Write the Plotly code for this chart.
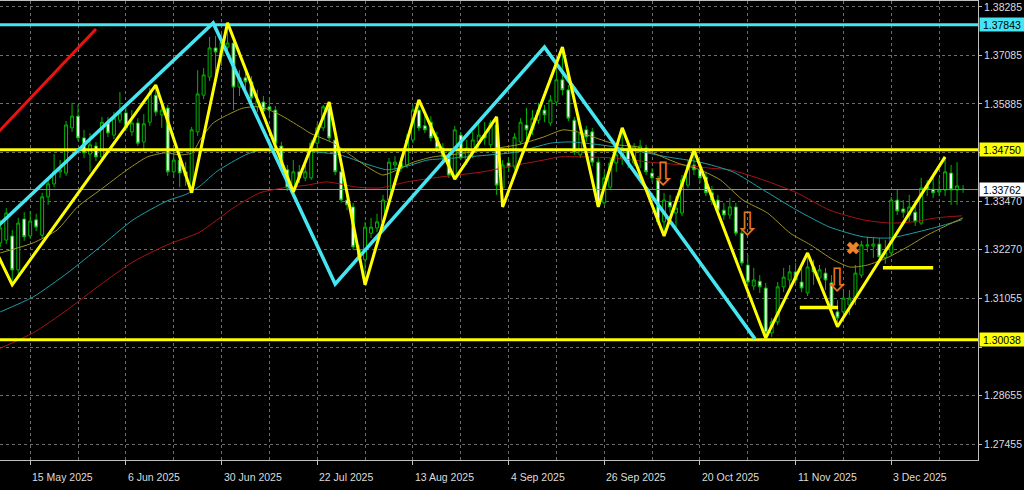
import plotly.graph_objects as go

# ---------------- data ----------------
# bar index 0 = 8 May 2025 ... 161 = 19 Dec 2025 (daily, weekdays)
opens = [
    1.3244, 1.3251, 1.3261, 1.3177, 1.3303, 1.3261, 1.3301, 1.3263, 1.3358, 1.3390,
    1.3420, 1.3417, 1.3529, 1.3558, 1.3504, 1.3464, 1.3484, 1.3457, 1.3541, 1.3511,
    1.3548, 1.3566, 1.3519, 1.3541, 1.3494, 1.3543, 1.3610, 1.3561, 1.3578, 1.3420,
    1.3449, 1.3420, 1.3380, 1.3519, 1.3610, 1.3655, 1.3727, 1.3707, 1.3729, 1.3739,
    1.3630, 1.3653, 1.3643, 1.3581, 1.3593, 1.3581, 1.3573, 1.3484, 1.3425, 1.3380,
    1.3420, 1.3405, 1.3405, 1.3491, 1.3529, 1.3578, 1.3499, 1.3420, 1.3350, 1.3333,
    1.3226, 1.3202, 1.3268, 1.3281, 1.3296, 1.3350, 1.3437, 1.3442, 1.3437, 1.3499,
    1.3573, 1.3534, 1.3543, 1.3506, 1.3479, 1.3457, 1.3412, 1.3511, 1.3449, 1.3474,
    1.3494, 1.3511, 1.3487, 1.3536, 1.3380, 1.3442, 1.3432, 1.3494, 1.3536, 1.3524,
    1.3548, 1.3573, 1.3541, 1.3593, 1.3648, 1.3623, 1.3548, 1.3462, 1.3524, 1.3519,
    1.3444, 1.3343, 1.3382, 1.3442, 1.3454, 1.3479, 1.3442, 1.3474, 1.3479, 1.3417,
    1.3400, 1.3296, 1.3345, 1.3318, 1.3318, 1.3387, 1.3437, 1.3425, 1.3407, 1.3368,
    1.3350, 1.3325, 1.3313, 1.3333, 1.3268, 1.3189, 1.3137, 1.3149, 1.3132, 1.3021,
    1.3048, 1.3135, 1.3152, 1.3172, 1.3147, 1.3120, 1.3184, 1.3157, 1.3169, 1.3145,
    1.3073, 1.3073, 1.3090, 1.3107, 1.3164, 1.3236, 1.3236, 1.3241, 1.3207, 1.3219,
    1.3350, 1.3328, 1.3313, 1.3320, 1.3293, 1.3385, 1.3377, 1.3370, 1.3375, 1.3417,
    1.3375, 1.3377,
]
highs = [
    1.3301, 1.3330, 1.3276, 1.3306, 1.3320, 1.3323, 1.3316, 1.3368, 1.3405, 1.3464,
    1.3449, 1.3546, 1.3591, 1.3586, 1.3524, 1.3516, 1.3494, 1.3556, 1.3556, 1.3568,
    1.3618, 1.3578, 1.3573, 1.3553, 1.3563, 1.3628, 1.3635, 1.3588, 1.3586, 1.3474,
    1.3469, 1.3444, 1.3531, 1.3672, 1.3677, 1.3754, 1.3757, 1.3767, 1.3789, 1.3747,
    1.3672, 1.3667, 1.3657, 1.3623, 1.3608, 1.3605, 1.3583, 1.3494, 1.3437, 1.3449,
    1.3437, 1.3437, 1.3499, 1.3541, 1.3586, 1.3593, 1.3506, 1.3429, 1.3370, 1.3343,
    1.3239, 1.3296, 1.3306, 1.3316, 1.3363, 1.3454, 1.3459, 1.3457, 1.3514, 1.3583,
    1.3598, 1.3568, 1.3558, 1.3519, 1.3491, 1.3469, 1.3534, 1.3519, 1.3499, 1.3519,
    1.3548, 1.3543, 1.3548, 1.3556, 1.3449, 1.3454, 1.3516, 1.3553, 1.3578, 1.3573,
    1.3591, 1.3586, 1.3610, 1.3672, 1.3729, 1.3635, 1.3556, 1.3531, 1.3534, 1.3529,
    1.3454, 1.3420, 1.3454, 1.3487, 1.3529, 1.3499, 1.3491, 1.3499, 1.3487, 1.3429,
    1.3410, 1.3368, 1.3363, 1.3360, 1.3412, 1.3449, 1.3474, 1.3442, 1.3420, 1.3385,
    1.3363, 1.3343, 1.3355, 1.3343, 1.3281, 1.3214, 1.3182, 1.3164, 1.3145, 1.3058,
    1.3147, 1.3182, 1.3189, 1.3194, 1.3182, 1.3219, 1.3202, 1.3189, 1.3182, 1.3164,
    1.3102, 1.3127, 1.3127, 1.3189, 1.3249, 1.3259, 1.3259, 1.3256, 1.3251, 1.3358,
    1.3375, 1.3350, 1.3363, 1.3350, 1.3405, 1.3400, 1.3410, 1.3405, 1.3457, 1.3437,
    1.3444, 1.3387,
]
lows = [
    1.3234, 1.3241, 1.3140, 1.3162, 1.3249, 1.3254, 1.3273, 1.3256, 1.3338, 1.3382,
    1.3405, 1.3410, 1.3519, 1.3496, 1.3454, 1.3420, 1.3447, 1.3449, 1.3506, 1.3501,
    1.3541, 1.3521, 1.3509, 1.3484, 1.3472, 1.3534, 1.3558, 1.3529, 1.3410, 1.3405,
    1.3382, 1.3385, 1.3368, 1.3509, 1.3600, 1.3645, 1.3660, 1.3682, 1.3717, 1.3573,
    1.3608, 1.3623, 1.3591, 1.3568, 1.3563, 1.3553, 1.3484, 1.3420, 1.3373, 1.3370,
    1.3392, 1.3397, 1.3400, 1.3479, 1.3521, 1.3496, 1.3412, 1.3343, 1.3325, 1.3226,
    1.3197, 1.3140, 1.3256, 1.3271, 1.3286, 1.3343, 1.3425, 1.3420, 1.3429, 1.3491,
    1.3521, 1.3516, 1.3496, 1.3469, 1.3449, 1.3405, 1.3402, 1.3449, 1.3437, 1.3454,
    1.3479, 1.3487, 1.3479, 1.3363, 1.3333, 1.3420, 1.3425, 1.3487, 1.3499, 1.3511,
    1.3539, 1.3543, 1.3534, 1.3586, 1.3610, 1.3546, 1.3462, 1.3454, 1.3494, 1.3434,
    1.3333, 1.3338, 1.3375, 1.3420, 1.3437, 1.3429, 1.3434, 1.3429, 1.3412, 1.3395,
    1.3288, 1.3261, 1.3320, 1.3276, 1.3310, 1.3380, 1.3412, 1.3392, 1.3360, 1.3338,
    1.3316, 1.3301, 1.3303, 1.3261, 1.3187, 1.3137, 1.3127, 1.3120, 1.3008, 1.3011,
    1.3040, 1.3122, 1.3127, 1.3142, 1.3122, 1.3112, 1.3140, 1.3140, 1.3127, 1.3073,
    1.3036, 1.3058, 1.3065, 1.3090, 1.3157, 1.3221, 1.3207, 1.3202, 1.3192, 1.3211,
    1.3313, 1.3306, 1.3296, 1.3286, 1.3288, 1.3360, 1.3355, 1.3360, 1.3360, 1.3338,
    1.3338, 1.3368,
]
closes = [
    1.3281, 1.3318, 1.3177, 1.3293, 1.3259, 1.3298, 1.3283, 1.3358, 1.3390, 1.3420,
    1.3425, 1.3536, 1.3558, 1.3504, 1.3467, 1.3487, 1.3457, 1.3543, 1.3516, 1.3553,
    1.3566, 1.3529, 1.3541, 1.3491, 1.3539, 1.3615, 1.3568, 1.3573, 1.3420, 1.3449,
    1.3417, 1.3410, 1.3524, 1.3613, 1.3660, 1.3727, 1.3717, 1.3742, 1.3739, 1.3630,
    1.3653, 1.3643, 1.3603, 1.3598, 1.3571, 1.3573, 1.3491, 1.3429, 1.3380, 1.3420,
    1.3405, 1.3420, 1.3491, 1.3529, 1.3581, 1.3504, 1.3420, 1.3350, 1.3338, 1.3234,
    1.3207, 1.3283, 1.3283, 1.3296, 1.3350, 1.3444, 1.3444, 1.3429, 1.3499, 1.3573,
    1.3529, 1.3524, 1.3504, 1.3479, 1.3457, 1.3412, 1.3524, 1.3454, 1.3479, 1.3499,
    1.3511, 1.3504, 1.3541, 1.3387, 1.3437, 1.3432, 1.3506, 1.3543, 1.3524, 1.3553,
    1.3573, 1.3561, 1.3598, 1.3648, 1.3623, 1.3553, 1.3469, 1.3516, 1.3506, 1.3444,
    1.3338, 1.3405, 1.3442, 1.3462, 1.3479, 1.3442, 1.3482, 1.3484, 1.3420, 1.3405,
    1.3296, 1.3350, 1.3333, 1.3330, 1.3400, 1.3437, 1.3425, 1.3405, 1.3368, 1.3350,
    1.3325, 1.3313, 1.3333, 1.3268, 1.3194, 1.3147, 1.3152, 1.3135, 1.3021, 1.3048,
    1.3135, 1.3159, 1.3172, 1.3152, 1.3132, 1.3184, 1.3172, 1.3177, 1.3152, 1.3082,
    1.3058, 1.3107, 1.3107, 1.3169, 1.3239, 1.3239, 1.3241, 1.3209, 1.3219, 1.3350,
    1.3323, 1.3320, 1.3333, 1.3296, 1.3380, 1.3377, 1.3368, 1.3375, 1.3420, 1.3375,
    1.3385, 1.33762,
]

# date axis labels (bar index of each labelled day)
tick_bars = [5, 21, 37, 53, 69, 85, 101, 117, 133, 149]
tick_labels = ["15 May 2025", "6 Jun 2025", "30 Jun 2025", "22 Jul 2025", "13 Aug 2025",
               "4 Sep 2025", "26 Sep 2025", "20 Oct 2025", "11 Nov 2025", "3 Dec 2025"]

# price axis
price_ticks = [1.27455, 1.28655, 1.29855, 1.31055, 1.32270, 1.33470, 1.34685, 1.35885, 1.37085, 1.38285]
price_tick_text = ["1.27455", "1.28655", "", "1.31055", "1.32270", "1.33470", "", "1.35885", "1.37085", "1.38285"]

# moving averages (fast / medium / slow)
ma_fast_x = [0, 5.5, 9.5, 12.9, 16.7, 21.2, 24.6, 27.6, 30.1, 32.1, 33.4, 35.6, 38, 40.6, 43.5,
             46.8, 50.2, 51.8, 55.7, 58.5, 61.4, 64, 66.4, 69.1, 72.4, 76.4, 80.8, 86.5, 90.8, 94.1,
             96.5, 99.2, 103.2, 106.5, 109.9, 113.2, 117, 120.4, 124.2, 128.3, 132.1, 135.5, 139.3,
             142.1, 145, 148.3, 151.7, 155, 158.4, 161]
ma_fast_y = [1.3219, 1.3244, 1.3276, 1.3333, 1.3375, 1.3425, 1.3457, 1.3467, 1.3462, 1.3467,
             1.3499, 1.3541, 1.3561, 1.3578, 1.3581, 1.3561, 1.3531, 1.3516, 1.3491, 1.3462,
             1.3432, 1.3412, 1.3425, 1.3444, 1.3457, 1.3464, 1.3474, 1.3487, 1.3506, 1.3524,
             1.3519, 1.3506, 1.3487, 1.3482, 1.3462, 1.3442, 1.3425, 1.3400, 1.3350, 1.3318,
             1.3268, 1.3239, 1.3202, 1.3184, 1.3189, 1.3207, 1.3234, 1.3263, 1.3288, 1.3306]
ma_mid_x = [0, 5.5, 11.2, 16.7, 22.2, 27.9, 31.2, 33.4, 36.3, 41, 43.4, 48.5, 53, 56.8, 61.3,
            64.7, 68, 71.4, 75.7, 81.9, 86.4, 92, 95.3, 100.3, 105.8, 111.5, 117, 122.5, 127.6,
            133.2, 138.7, 144.3, 148.8, 152.6, 156.6, 160.8]
ma_mid_y = [1.3073, 1.3110, 1.3169, 1.3234, 1.3301, 1.3348, 1.3365, 1.3385, 1.3422, 1.3462,
            1.3474, 1.3474, 1.3469, 1.3462, 1.3439, 1.3425, 1.3434, 1.3449, 1.3454, 1.3462,
            1.3469, 1.3491, 1.3494, 1.3487, 1.3474, 1.3457, 1.3444, 1.3420, 1.3375, 1.3325,
            1.3283, 1.3259, 1.3256, 1.3268, 1.3283, 1.3301]
ma_slow_x = [0, 5.5, 11.2, 16.7, 22.2, 27.9, 33.4, 38.9, 43.4, 47.3, 51.3, 54.6, 59.7, 63.5, 68,
             73.5, 80.7, 86.4, 90.8, 93.6, 97.5, 103.1, 108.6, 114.2, 118.7, 122, 127.6, 133.2,
             138.7, 144.3, 148.8, 152.6, 156.6, 160.8]
ma_slow_y = [1.2983, 1.3021, 1.3078, 1.3140, 1.3197, 1.3239, 1.3271, 1.3330, 1.3368, 1.3380,
             1.3387, 1.3395, 1.3382, 1.3380, 1.3395, 1.3407, 1.3420, 1.3437, 1.3449, 1.3457,
             1.3457, 1.3454, 1.3444, 1.3437, 1.3429, 1.3425, 1.3400, 1.3368, 1.3325, 1.3301,
             1.3293, 1.3296, 1.3306, 1.3311]

# zigzags
zz_minor_x = [-1, 2, 26, 32, 38, 49, 55, 61, 70, 76, 83, 84, 94, 100, 104, 111, 116, 128, 135, 140, 158]
zz_minor_y = [1.3232, 1.3140, 1.3635, 1.3368, 1.3789, 1.3370, 1.3593, 1.3140, 1.3598, 1.3402,
              1.3556, 1.3333, 1.3729, 1.3333, 1.3529, 1.3261, 1.3474, 1.3008, 1.3219, 1.3036, 1.3457]
zz_major_x = [-1, 35.6, 56, 91, 126.2]
zz_major_y = [1.3277, 1.3789, 1.3142, 1.3729, 1.3006]

# red trend line
trend_x = [-1, 16]
trend_y = [1.3508, 1.3774]

# horizontal levels
level_top = 1.37843
level_mid = 1.34750
level_low = 1.30038
last_price = 1.33762

# short yellow segments
seg1_x = [133.7, 140.1]
seg1_y = [1.3084, 1.3084]
seg2_x = [147.6, 156.0]
seg2_y = [1.3182, 1.3182]

# signal marks
arrow_x = [110.8, 124.9, 139.9]
arrow_y = [1.3407, 1.3283, 1.3145]
cross_x = [142.6]
cross_y = [1.3231]

X_RANGE = [-0.05, 163.5]
Y_RANGE = [1.27059, 1.38433]

# ---------------- figure ----------------
GREEN = "#00b400"
CYAN = "#45e6f2"
fig = go.Figure()

fig.add_trace(go.Scatter(x=X_RANGE, y=[last_price, last_price], mode="lines",
                         line=dict(color="#8c8c8c", width=1), hoverinfo="skip"))

fig.add_trace(go.Candlestick(
    x=list(range(len(closes))), open=opens, high=highs, low=lows, close=closes,
    increasing=dict(line=dict(color=GREEN, width=1), fillcolor="black"),
    decreasing=dict(line=dict(color=GREEN, width=1), fillcolor="white"),
    whiskerwidth=0,
))

fig.add_trace(go.Scatter(x=ma_slow_x, y=ma_slow_y, mode="lines",
                         line=dict(color="#a81414", width=1, shape="spline", smoothing=0.6)))
fig.add_trace(go.Scatter(x=ma_mid_x, y=ma_mid_y, mode="lines",
                         line=dict(color="#1f9ea6", width=1, shape="spline", smoothing=0.6)))
fig.add_trace(go.Scatter(x=ma_fast_x, y=ma_fast_y, mode="lines",
                         line=dict(color="#9c9420", width=1, shape="spline", smoothing=0.6)))

for lvl, col in [(level_top, CYAN), (level_mid, "#ffff00"), (level_low, "#ffff00")]:
    fig.add_trace(go.Scatter(x=X_RANGE, y=[lvl, lvl], mode="lines",
                             line=dict(color=col, width=3), hoverinfo="skip"))

fig.add_trace(go.Scatter(x=trend_x, y=trend_y, mode="lines", line=dict(color="#ee1111", width=3)))
fig.add_trace(go.Scatter(x=zz_major_x, y=zz_major_y, mode="lines", line=dict(color=CYAN, width=3.5)))
fig.add_trace(go.Scatter(x=zz_minor_x, y=zz_minor_y, mode="lines", line=dict(color="#ffff00", width=3)))
fig.add_trace(go.Scatter(x=seg1_x, y=seg1_y, mode="lines", line=dict(color="#ffff00", width=3.5)))
fig.add_trace(go.Scatter(x=seg2_x, y=seg2_y, mode="lines", line=dict(color="#ffff00", width=3.5)))

fig.add_trace(go.Scatter(x=arrow_x, y=arrow_y, mode="text", text=["⇩"] * len(arrow_x),
                         textposition="middle center",
                         textfont=dict(family="DejaVu Sans", size=32, color="#e07a26")))
fig.add_trace(go.Scatter(x=cross_x, y=cross_y, mode="markers",
                         marker=dict(symbol="x", size=11, color="#f08228", line=dict(width=0))))

# price boxes on the right axis
for lvl, bg in [(level_top, CYAN), (level_mid, "#ffff00"), (level_low, "#ffff00"), (last_price, "#ffffff")]:
    fig.add_annotation(x=1, xref="paper", y=lvl, yref="y", xanchor="left", yanchor="middle",
                       xshift=1, text=f"{lvl:.5f}", showarrow=False, bgcolor=bg,
                       font=dict(color="black", size=10.5, family="Liberation Sans"),
                       width=42, height=11, borderpad=1, align="center")

# date labels (left aligned at their tick, like the terminal does)
for b, lab in zip(tick_bars, tick_labels):
    fig.add_annotation(x=b, xref="x", y=0, yref="paper", xanchor="left", yanchor="top",
                       xshift=0, yshift=-9, text=lab, showarrow=False,
                       font=dict(color="#dcdcdc", size=10.5, family="Liberation Sans"))

GRID = "#6c6c6c"
fig.update_layout(
    width=1024, height=490,
    margin=dict(l=0, r=46, t=1, b=30),
    paper_bgcolor="black", plot_bgcolor="black",
    showlegend=False,
    font=dict(family="Liberation Sans", size=10.5, color="#dcdcdc"),
)
fig.update_xaxes(
    range=X_RANGE, tickmode="linear", tick0=tick_bars[0], dtick=16,
    ticks="outside", ticklen=4, tickcolor="#c0c0c0", showticklabels=False,
    showgrid=True, gridcolor=GRID, griddash="3px,3px", gridwidth=1,
    minor=dict(tick0=tick_bars[0], dtick=8, showgrid=True, gridcolor=GRID, griddash="3px,3px", ticks=""),
    showline=True, linecolor="#c0c0c0", linewidth=1, mirror=True, zeroline=False,
    rangeslider=dict(visible=False),
)
fig.update_yaxes(
    range=Y_RANGE, side="right", tickmode="array", tickvals=price_ticks, ticktext=price_tick_text,
    ticks="outside", ticklen=3, tickcolor="#c0c0c0",
    showgrid=True, gridcolor=GRID, griddash="3px,3px", gridwidth=1,
    showline=True, linecolor="#c0c0c0", linewidth=1, mirror=True, zeroline=False,
    tickfont=dict(color="#dcdcdc", size=10.5, family="Liberation Sans"),
)

fig.write_html(
    "out.html",
    config={"displayModeBar": False},
    post_script="document.body.style.margin='0';document.body.style.padding='0';"
                "document.body.style.background='black';",
)
